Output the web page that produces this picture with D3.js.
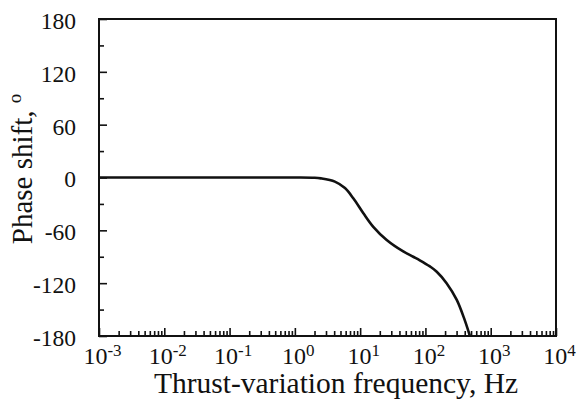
<!DOCTYPE html>
<html>
<head>
<meta charset="utf-8">
<script src="https://cdn.jsdelivr.net/npm/d3@7"></script>
<style>
    body { margin: 0; background: #fff; }
    svg text { font-family: "Liberation Serif", "Times New Roman", serif; fill: #111; }
</style>
</head>
<body>
<script>
const freq = [0.001, 0.1, 1, 2, 2.5, 4.1, 5.85, 7.85, 11.2, 15.9, 25.5, 45.7, 65, 82, 117, 149, 211, 302, 400, 480]
const phase = [0, 0, 0, -0.3, -1, -4.7, -12, -23.6, -40.6, -56, -71, -84, -90, -94, -101, -107, -120, -139, -162, -180]
const y_ticks = [-180, -120, -60, 0, 60, 120, 180]
const x_decades = [-3, -2, -1, 0, 1, 2, 3, 4]

;(() => {
    const svg = d3.select("body")
        .append("svg")
        .attr("width", 577)
        .attr("height", 401)

    const scale_x = d3.scaleLog().domain([1e-3, 1e4]).range([99, 556])
    const scale_y = d3.scaleLinear().domain([-180, 180]).range([336, 19])

    // minor ticks
    const minor_x = []
    x_decades.slice(0, -1).forEach((e) => {
        for (let k = 2; k <= 9; k++) minor_x.push(k * Math.pow(10, e))
    })
    const minor_y = d3.range(-150, 180, 60)

    svg.append("g")
        .attr("transform", "translate(0, 336)")
        .call(d3.axisBottom(scale_x).tickValues(minor_x).tickSize(-5).tickFormat(""))
        .call((g) => g.select(".domain").remove())
    svg.append("g")
        .attr("transform", "translate(99, 0)")
        .call(d3.axisLeft(scale_y).tickValues(minor_y).tickSize(-5).tickFormat(""))
        .call((g) => g.select(".domain").remove())

    const axis_x = svg.append("g")
        .attr("transform", "translate(0, 336)")
        .call(d3.axisBottom(scale_x)
            .tickValues(x_decades.map((e) => Math.pow(10, e)))
            .tickSize(-8).tickPadding(11).tickFormat(""))
    axis_x.select(".domain").remove()
    axis_x.selectAll(".tick text")
        .data(x_decades)
        .attr("font-size", 24)
        .attr("dy", "0.71em")
        .attr("dx", 3)
        .each(function (e) {
            const t = d3.select(this)
            t.append("tspan").text("10")
            t.append("tspan").attr("dy", -8).attr("font-size", 17).text(e)
        })

    const axis_y = svg.append("g")
        .attr("transform", "translate(99, 0)")
        .call(d3.axisLeft(scale_y).tickValues(y_ticks).tickSize(-8).tickPadding(23)
            .tickFormat((d) => String(d)))
    axis_y.select(".domain").remove()
    axis_y.selectAll(".tick text").attr("font-size", 23.5).attr("dy", "0.4em")

    svg.selectAll(".tick line").attr("stroke", "#111").attr("stroke-width", 1.6)

    // frame
    svg.append("rect")
        .attr("x", 99).attr("y", 19)
        .attr("width", 556 - 99).attr("height", 336 - 19)
        .attr("fill", "none")
        .attr("stroke", "#111")
        .attr("stroke-width", 2)

    const line = d3.line()
        .x((d, i) => scale_x(freq[i]))
        .y((d) => scale_y(d))
        .curve(d3.curveCatmullRom.alpha(0.5))
    svg.append("path")
        .attr("fill", "none")
        .attr("stroke", "#111")
        .attr("stroke-width", 2.6)
        .attr("d", line(phase))

    svg.append("text")
        .attr("x", 336).attr("y", 393)
        .attr("text-anchor", "middle")
        .attr("font-size", 29.5)
        .text("Thrust-variation frequency, Hz")

    const ylab = svg.append("text")
        .attr("transform", "translate(32, 169) rotate(-90)")
        .attr("text-anchor", "middle")
        .attr("font-size", 29)
    ylab.append("tspan").text("Phase shift, ")
    ylab.append("tspan").attr("dy", -11).attr("font-size", 19).text("o")
})();
</script>
</body>
</html>
